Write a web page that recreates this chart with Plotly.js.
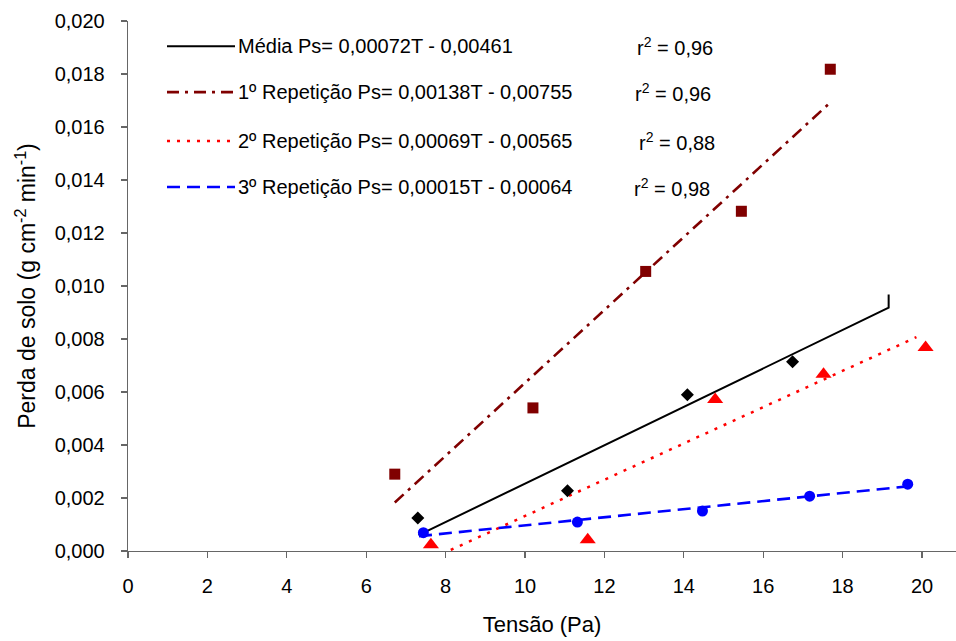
<!DOCTYPE html>
<html>
<head>
<meta charset="utf-8">
<script src="https://cdn.plot.ly/plotly-3.0.1.min.js"></script>
<style>
  html, body { margin: 0; padding: 0; background: #fff; }
  #chart { width: 956px; height: 641px; }
</style>
</head>
<body>
<div id="chart"></div>
<script>
// ─── Observed points (Tensão in Pa, Perda de solo in g cm⁻² min⁻¹) ───
const mediaT = [7.30, 11.07, 14.09, 16.74];
const mediaPs = [0.00125, 0.00227, 0.00590, 0.00714];

const rep1T = [6.72, 10.20, 13.04, 15.45, 17.69];
const rep1Ps = [0.00290, 0.00540, 0.01055, 0.01282, 0.01818];

const rep2T = [7.63, 11.58, 14.79, 17.52, 20.09];
const rep2Ps = [0.00024, 0.00042, 0.00572, 0.00667, 0.00768];

const rep3T = [7.44, 11.32, 14.47, 17.17, 19.64];
const rep3Ps = [0.00069, 0.00109, 0.00151, 0.00207, 0.00252];

// ─── Fitted lines, end points ───
// (the Média fit ends in a small vertical stroke in the original)
const mediaFitT = [7.32, 19.16, 19.16];
const mediaFitPs = [0.00060, 0.00918, 0.00968];
const rep1FitT = [6.72, 17.63];
const rep1FitPs = [0.00183, 0.01684];
const rep2FitT = [8.13, 19.86];
const rep2FitPs = [0.00004, 0.00807];
const rep3FitT = [7.33, 19.64];
const rep3FitPs = [0.00056, 0.00244];

// ─── Legend texts ───
const fitLabels = [
    'Média Ps= 0,00072T - 0,00461',
    '1º Repetição Ps= 0,00138T - 0,00755',
    '2º Repetição Ps= 0,00069T - 0,00565',
    '3º Repetição Ps= 0,00015T - 0,00064'
];
const r2Labels = ['0,96', '0,96', '0,88', '0,98'];

const FONT = 'Liberation Sans, Arial, sans-serif';
const DARKRED = '#800000';
const RED = '#FF0000';
const BLUE = '#0000FF';

// line styles in legend order: média, 1º, 2º, 3º
const fitStyles = [
    { color: '#000000', width: 2,   dash: 'solid' },
    { color: DARKRED,   width: 2.6, dash: '12px,6px,3px,6px' },
    { color: RED,       width: 2.5, dash: '3px,7px' },
    { color: BLUE,      width: 2.6, dash: '13px,7px' }
];

// ─── Geometry of the plot area ───
const M = { l: 128, r: 0, t: 20.5, b: 90 };
const W = 956, H = 641;
const plotW = W - M.l - M.r, plotH = H - M.t - M.b;
const px = x => (x - M.l) / plotW;          // pixel → paper (x)
const py = y => (H - M.b - y) / plotH;      // pixel → paper (y)

const rowY = [45.7, 91.7, 140.7, 186.7];
const r2X = [635, 633, 637, 632];

const fitTraces = [
    [mediaFitT, mediaFitPs],
    [rep1FitT, rep1FitPs],
    [rep2FitT, rep2FitPs],
    [rep3FitT, rep3FitPs]
].map(([t, ps], i) => ({
    x: t, y: ps, type: 'scatter', mode: 'lines',
    line: fitStyles[i], hoverinfo: 'skip', showlegend: false
}));

const pointTraces = [
    { x: rep1T, y: rep1Ps, symbol: 'square',      color: DARKRED,   size: 11 },
    { x: mediaT, y: mediaPs, symbol: 'diamond',   color: '#000000', size: 10 },
    { x: rep2T, y: rep2Ps, symbol: 'triangle-up', color: RED,       size: 14 },
    { x: rep3T, y: rep3Ps, symbol: 'circle',      color: BLUE,      size: 11 }
].map(p => ({
    x: p.x, y: p.y, type: 'scatter', mode: 'markers', showlegend: false,
    marker: { symbol: p.symbol, color: p.color, size: p.size, line: { width: 0 } }
}));

const shapes = fitStyles.map((s, i) => ({
    type: 'line', xref: 'paper', yref: 'paper',
    x0: px(167), x1: px(235), y0: py(rowY[i]), y1: py(rowY[i]),
    line: { color: s.color, width: s.width, dash: s.dash }
}));

const annotations = [];
fitLabels.forEach((txt, i) => {
    annotations.push({
        xref: 'paper', yref: 'paper', x: px(236), y: py(rowY[i]),
        xanchor: 'left', yanchor: 'middle', showarrow: false,
        text: txt, font: { family: FONT, size: 20, color: '#000' }
    });
    annotations.push({
        xref: 'paper', yref: 'paper', x: px(r2X[i]), y: py(rowY[i]),
        xanchor: 'left', yanchor: 'middle', showarrow: false,
        text: 'r<sup>2</sup> = ' + r2Labels[i], font: { family: FONT, size: 20, color: '#000' }
    });
});

const axisCommon = {
    showgrid: false, zeroline: false, showline: true,
    linecolor: '#666', linewidth: 1.3,
    ticks: 'outside', ticklen: 6, tickwidth: 1.3, tickcolor: '#666',
    tickfont: { family: FONT, size: 20, color: '#000' }
};

const layout = {
    width: W, height: H,
    margin: M,
    paper_bgcolor: '#fff', plot_bgcolor: '#fff',
    separators: ',.',
    font: { family: FONT, color: '#000' },
    xaxis: Object.assign({}, axisCommon, {
        range: [0, plotW / 39.7], tick0: 0, dtick: 2,
        ticklabelstandoff: 11,
        title: { text: 'Tensão (Pa)', font: { family: FONT, size: 22 }, standoff: 20 }
    }),
    yaxis: Object.assign({}, axisCommon, {
        range: [0, 0.02], tick0: 0, dtick: 0.002, tickformat: '.3f',
        ticklabelstandoff: 12,
        title: { text: 'Perda de solo (g cm<sup>-2</sup> min<sup>-1</sup>)', font: { family: FONT, size: 23 }, standoff: 12 }
    }),
    shapes: shapes,
    annotations: annotations,
    showlegend: false
};

Plotly.newPlot('chart', fitTraces.concat(pointTraces), layout, { displayModeBar: false, staticPlot: true });
</script>
</body>
</html>
